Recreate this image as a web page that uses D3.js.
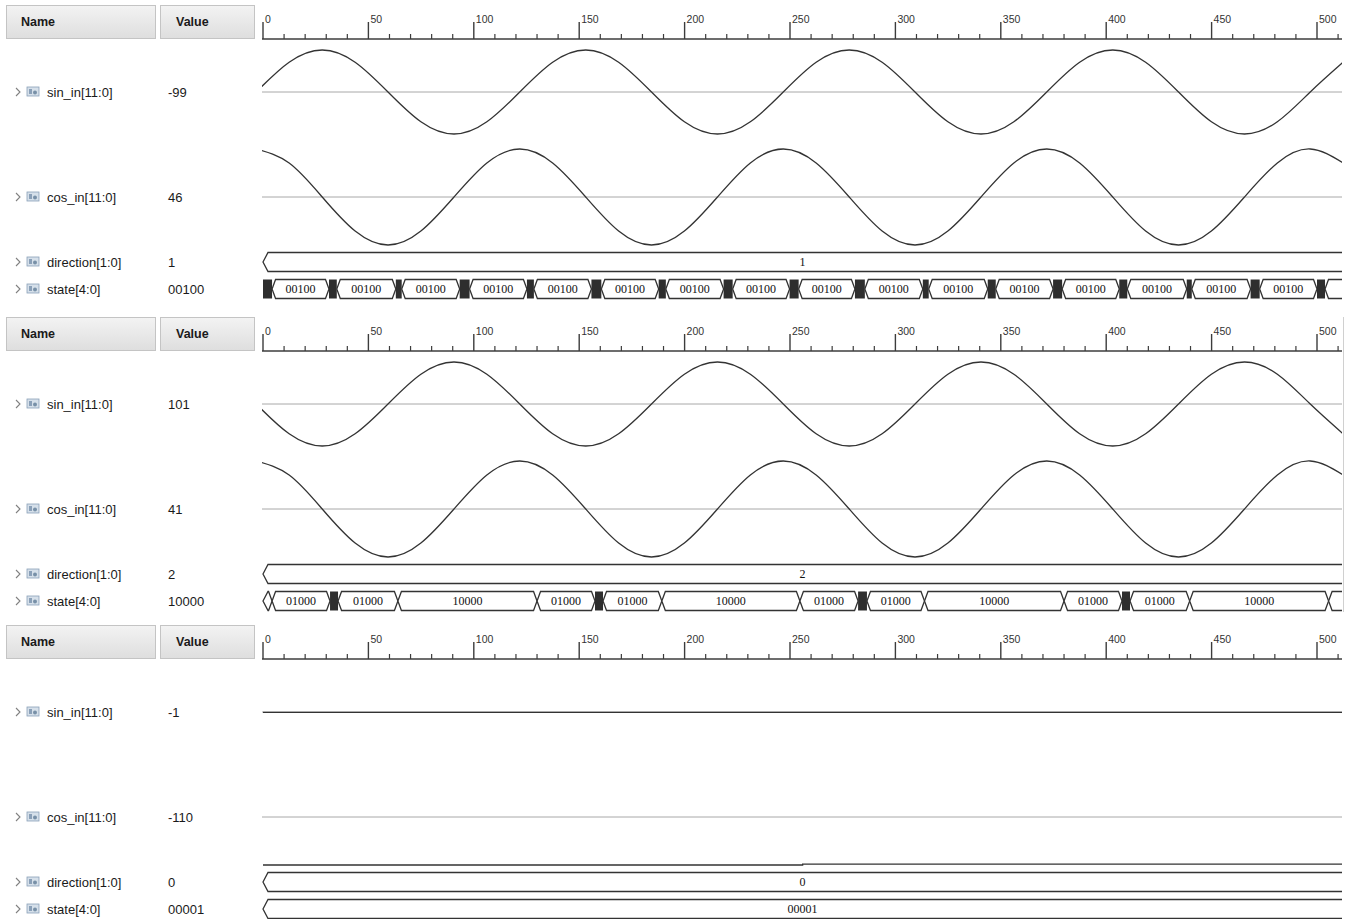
<!DOCTYPE html>
<html>
<head>
<meta charset="utf-8">
<script src="https://cdn.jsdelivr.net/npm/d3@7"></script>
<style>
  html, body { margin: 0; padding: 0; background: #ffffff; }
  svg { display: block; }
</style>
</head>
<body>
<svg id="chart" width="1350" height="919"></svg>
<script>
// ---------------- waveform data ----------------
const majorTicks = [0, 50, 100, 150, 200, 250, 300, 350, 400, 450, 500];
const signalNames = ["sin_in[11:0]", "cos_in[11:0]", "direction[1:0]", "state[4:0]"];
const panelValues = [
  ["-99", "46", "1", "00100"],
  ["101", "41", "2", "10000"],
  ["-1", "-110", "0", "00001"]
];

// sample instants (ns) of the analog traces
const sampleTimes = [-3.2, 12.4, 28.1, 43.7, 59.3, 74.9, 90.6, 106.2, 121.8, 137.4, 153.1, 168.7,
  184.3, 199.9, 215.6, 231.2, 246.8, 262.4, 278.1, 293.7, 309.3, 324.9, 340.6, 356.2,
  371.8, 387.4, 403.1, 418.7, 434.3, 449.9, 465.6, 481.2, 496.8, 512.4];

// direction = 1
const sin1 = [0, 78, 110, 78, 0, -78, -110, -78, 0, 78, 110, 78, 0, -78, -110, -78,
  0, 78, 110, 78, 0, -78, -110, -78, 0, 78, 110, 78, 0, -78, -110, -78, 0, 78];
const cos1 = [110, 78, 0, -78, -110, -78, 0, 78, 110, 78, 0, -78, -110, -78, 0, 78,
  110, 78, 0, -78, -110, -78, 0, 78, 110, 78, 0, -78, -110, -78, 0, 78, 110, 78];
// direction = 2
const sin2 = [0, -78, -110, -78, 0, 78, 110, 78, 0, -78, -110, -78, 0, 78, 110, 78,
  0, -78, -110, -78, 0, 78, 110, 78, 0, -78, -110, -78, 0, 78, 110, 78, 0, -78];
const cos2 = [110, 78, 0, -78, -110, -78, 0, 78, 110, 78, 0, -78, -110, -78, 0, 78,
  110, 78, 0, -78, -110, -78, 0, 78, 110, 78, 0, -78, -110, -78, 0, 78, 110, 78];
// direction = 0 (held)
const sin3Times = [0, 530];
const sin3 = [-1, -1];
const cos3Times = [0, 256, 256, 530];
const cos3 = [-110, -110, -108, -108];

// bus segments: boundaries (ns) and the value of each segment ("*" = dense toggling)
const dir1Bounds = [0, 530];
const dir1Values = ["1"];
const dir2Bounds = [0, 530];
const dir2Values = ["2"];
const dir3Bounds = [0, 530];
const dir3Values = ["0"];

const state1Bounds = [0, 4.3, 31.3, 35.0, 63.0, 65.8, 93.3, 98.0, 125.2, 128.5, 155.8, 160.5,
  187.7, 191.1, 218.5, 222.8, 249.8, 254.1, 280.8, 285.5, 313.0, 315.8, 343.8, 347.6,
  374.8, 379.1, 406.2, 410.0, 438.2, 440.6, 468.5, 472.8, 500.0, 503.8, 530];
const state1Values = ["*", "00100", "*", "00100", "*", "00100", "*", "00100", "*", "00100",
  "*", "00100", "*", "00100", "*", "00100", "*", "00100", "*", "00100", "*", "00100",
  "*", "00100", "*", "00100", "*", "00100", "*", "00100", "*", "00100", "*", "00100"];

const state2Bounds = [0, 4.3, 31.8, 35.6, 64.0, 130.0, 157.5, 161.3, 189.2, 254.7, 282.3, 286.5,
  313.8, 380.0, 407.5, 411.3, 439.6, 505.5, 530];
const state2Values = ["10000", "01000", "*", "01000", "10000", "01000", "*", "01000", "10000",
  "01000", "*", "01000", "10000", "01000", "*", "01000", "10000", "01000"];

const state3Bounds = [0, 530];
const state3Values = ["00001"];

const panels = [
  { sinT: sampleTimes, sinV: sin1, cosT: sampleTimes, cosV: cos1, curve: d3.curveNatural,
    dirB: dir1Bounds, dirV: dir1Values, stB: state1Bounds, stV: state1Values, edge: false },
  { sinT: sampleTimes, sinV: sin2, cosT: sampleTimes, cosV: cos2, curve: d3.curveNatural,
    dirB: dir2Bounds, dirV: dir2Values, stB: state2Bounds, stV: state2Values, edge: true },
  { sinT: sin3Times, sinV: sin3, cosT: cos3Times, cosV: cos3, curve: d3.curveLinear,
    dirB: dir3Bounds, dirV: dir3Values, stB: state3Bounds, stV: state3Values, edge: false }
];

// ---------------- layout ----------------
const svg = d3.select("#chart");
const panelTops = [5, 317, 625];
const XL = 262, XR = 1342;
const x = d3.scaleLinear().domain([0, 500]).range([263, 1317]);

const defs = svg.append("defs");
const grad = defs.append("linearGradient").attr("id", "hdr").attr("x1", 0).attr("y1", 0).attr("x2", 0).attr("y2", 1);
grad.append("stop").attr("offset", "0%").attr("stop-color", "#f3f3f3");
grad.append("stop").attr("offset", "100%").attr("stop-color", "#dedede");
defs.append("clipPath").attr("id", "wclip")
  .append("rect").attr("x", XL).attr("y", 0).attr("width", XR - XL).attr("height", 919);

const textFont = "'Liberation Sans', Arial, sans-serif";
const busFont = "'Liberation Serif', 'Times New Roman', serif";

// offsets of each row centre from the panel top
const rowOff = { sin: 87, cos: 192, dir: 257, state: 284 };
const sinAmp = 42, cosAmp = 48, busH = 9.5;

function drawBus(g, bounds, values, cy) {
  const d = 3.5;
  for (let i = 0; i < values.length; i++) {
    const s = x(bounds[i]), e = x(bounds[i + 1]);
    const v = values[i];
    if (v === "*") {
      g.append("rect").attr("x", s).attr("y", cy - busH).attr("width", e - s).attr("height", busH * 2)
        .attr("fill", "#2e2e2e");
      continue;
    }
    const tip = (bounds[i] === 0) ? 5 : d;
    const path = d3.path();
    path.moveTo(s, cy);
    path.lineTo(s + tip, cy - busH);
    path.lineTo(e - d, cy - busH);
    path.lineTo(e, cy);
    path.lineTo(e - d, cy + busH);
    path.lineTo(s + tip, cy + busH);
    path.closePath();
    g.append("path").attr("d", path.toString())
      .attr("fill", "#ffffff").attr("stroke", "#333333").attr("stroke-width", 1.3);
    const vs = Math.max(s, XL), ve = Math.min(e, XR);
    const tw = v.length * 6.2;
    if (ve - vs > tw + 10) {
      g.append("text").attr("x", (vs + ve) / 2).attr("y", cy + 4)
        .attr("text-anchor", "middle")
        .style("font-family", busFont).style("font-size", "12px").attr("fill", "#111111")
        .text(v);
    }
  }
}

panels.forEach((p, pi) => {
  const top = panelTops[pi];
  const g = svg.append("g");

  // header boxes
  g.append("rect").attr("x", 6.5).attr("y", top + 0.5).attr("width", 149).attr("height", 33)
    .attr("fill", "url(#hdr)").attr("stroke", "#c4c4c4");
  g.append("rect").attr("x", 160.5).attr("y", top + 0.5).attr("width", 94).attr("height", 33)
    .attr("fill", "url(#hdr)").attr("stroke", "#c4c4c4");
  g.append("text").attr("x", 21).attr("y", top + 21)
    .style("font-family", textFont).style("font-size", "12.5px").style("font-weight", "bold")
    .attr("fill", "#1a1a1a").text("Name");
  g.append("text").attr("x", 176).attr("y", top + 21)
    .style("font-family", textFont).style("font-size", "12.5px").style("font-weight", "bold")
    .attr("fill", "#1a1a1a").text("Value");

  // time ruler
  const base = top + 34;
  const ax = g.append("g");
  ax.append("line").attr("x1", XL).attr("x2", XR).attr("y1", base).attr("y2", base)
    .attr("stroke", "#3c3c3c").attr("stroke-width", 1.5);
  const minor = d3.range(0, 511, 10).filter(t => !majorTicks.includes(t));
  ax.selectAll("line.minor").data(minor).join("line").attr("class", "minor")
    .attr("x1", d => x(d)).attr("x2", d => x(d)).attr("y1", base - 5).attr("y2", base)
    .attr("stroke", "#3c3c3c").attr("stroke-width", 1.2);
  ax.selectAll("line.major").data(majorTicks).join("line").attr("class", "major")
    .attr("x1", d => x(d)).attr("x2", d => x(d)).attr("y1", base - 17).attr("y2", base)
    .attr("stroke", "#3c3c3c").attr("stroke-width", 1.4);
  ax.selectAll("text").data(majorTicks).join("text")
    .attr("x", d => x(d) + 2).attr("y", base - 16)
    .style("font-family", textFont).style("font-size", "10.5px").attr("fill", "#333")
    .text(d => d);

  // signal name and value columns
  const rows = ["sin", "cos", "dir", "state"];
  rows.forEach((r, ri) => {
    const cy = top + rowOff[r];
    g.append("path").attr("d", `M16,${cy - 4} L20,${cy} L16,${cy + 4}`)
      .attr("fill", "none").attr("stroke", "#808080").attr("stroke-width", 1.1);
    const ic = g.append("g").attr("transform", `translate(27,${cy - 5})`);
    ic.append("rect").attr("x", 0).attr("y", 0).attr("width", 12).attr("height", 9)
      .attr("fill", "#d6e0ea").attr("stroke", "#8aa0b8").attr("stroke-width", 0.8);
    ic.append("rect").attr("x", 2).attr("y", 2).attr("width", 3).attr("height", 5).attr("fill", "#8aa0b8");
    ic.append("circle").attr("cx", 8).attr("cy", 5.5).attr("r", 2).attr("fill", "#7890a8");
    g.append("text").attr("x", 47).attr("y", cy + 4.5)
      .style("font-family", textFont).style("font-size", "13px").attr("fill", "#1a1a1a")
      .text(signalNames[ri]);
    g.append("text").attr("x", 168).attr("y", cy + 4.5)
      .style("font-family", textFont).style("font-size", "13px").attr("fill", "#1a1a1a")
      .text(panelValues[pi][ri]);
  });

  // waveform area
  const wg = g.append("g").attr("clip-path", "url(#wclip)");
  [["sin", sinAmp, p.sinT, p.sinV], ["cos", cosAmp, p.cosT, p.cosV]].forEach(([r, amp, ts, vs]) => {
    const cy = top + rowOff[r];
    const y = d3.scaleLinear().domain([-110, 110]).range([cy + amp, cy - amp]);
    wg.append("line").attr("x1", XL).attr("x2", XR).attr("y1", cy).attr("y2", cy)
      .attr("stroke", "#a8a8a8").attr("stroke-width", 1);
    const pts = ts.map((t, i) => [t, vs[i]]);
    wg.append("path").datum(pts)
      .attr("d", d3.line().x(d => x(d[0])).y(d => y(d[1])).curve(p.curve))
      .attr("fill", "none").attr("stroke", "#333333").attr("stroke-width", 1.3);
  });
  drawBus(wg, p.dirB, p.dirV, top + rowOff.dir);
  drawBus(wg, p.stB, p.stV, top + rowOff.state);

  if (p.edge) {
    g.append("line").attr("x1", 1343.5).attr("x2", 1343.5).attr("y1", top).attr("y2", top + 295)
      .attr("stroke", "#d0d0d0");
  }
});
</script>
</body>
</html>
